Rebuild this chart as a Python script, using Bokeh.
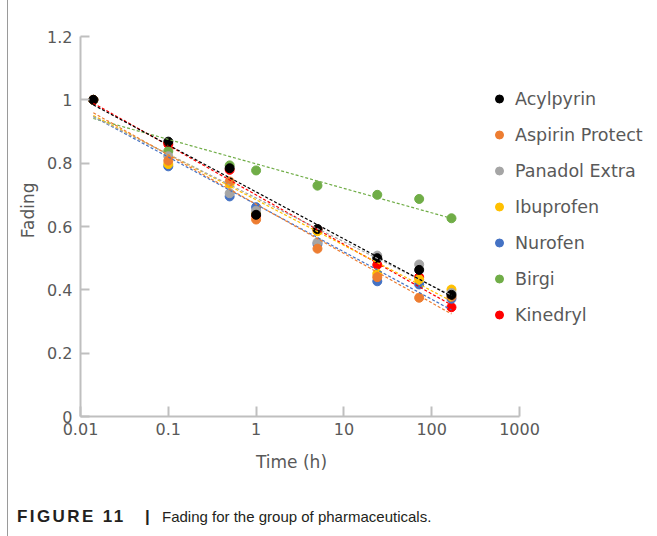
import numpy as np
from bokeh.plotting import figure
from bokeh.layouts import column
from bokeh.models import (Range1d, FixedTicker, CustomJSTickFormatter, Legend, LegendItem, Div)
from bokeh.embed import file_html
from bokeh.resources import INLINE

# ---- data ----
times = [0.014, 0.1, 0.5, 1, 5, 24, 72, 168]
series_names = ["Acylpyrin", "Aspirin Protect", "Panadol Extra", "Ibuprofen", "Nurofen", "Birgi", "Kinedryl"]
acylpyrin = [1.0, 0.868, 0.784, 0.637, 0.592, 0.500, 0.463, 0.384]
aspirin_protect = [1.0, 0.808, 0.742, 0.622, 0.530, 0.440, 0.375, 0.378]
panadol_extra = [1.0, 0.822, 0.705, 0.650, 0.550, 0.508, 0.480, 0.390]
ibuprofen = [1.0, 0.797, 0.735, 0.640, 0.585, 0.451, 0.433, 0.401]
nurofen = [1.0, 0.790, 0.695, 0.661, 0.545, 0.427, 0.417, 0.372]
birgi = [1.0, 0.838, 0.793, 0.777, 0.729, 0.700, 0.687, 0.626]
kinedryl = [1.0, 0.860, 0.779, 0.635, 0.590, 0.479, 0.440, 0.345]
series_values = [acylpyrin, aspirin_protect, panadol_extra, ibuprofen, nurofen, birgi, kinedryl]
colors = ["#000000", "#ED7D31", "#A5A5A5", "#FFC000", "#4472C4", "#70AD47", "#FF0000"]
x_ticks = [0.01, 0.1, 1, 10, 100, 1000]
y_ticks = [0, 0.2, 0.4, 0.6, 0.8, 1.0, 1.2]
x_title = "Time (h)"
y_title = "Fading"
caption_bold = "FIGURE 11"
caption_sep = "|"
caption_text = "Fading for the group of pharmaceuticals."

# ---- layout (pixels) ----
W = 649            # canvas width (page has a 8px left offset with border)
H_MAIN = 450
H_CAP = 86
FRAME_L, FRAME_T, FRAME_B = 72, 36, 34
AXIS_W = 439       # pixel width of 0.01..1000
extra_decades = (W - FRAME_L - AXIS_W) / (AXIS_W / 5.0)

p = figure(width=W, height=H_MAIN, x_axis_type="log", output_backend="svg", toolbar_location=None,
           x_range=Range1d(0.01, 10 ** (3 + extra_decades)), y_range=Range1d(0, 1.2),
           min_border_left=FRAME_L, min_border_right=0, min_border_top=FRAME_T,
           min_border_bottom=FRAME_B)
p.outline_line_color = None
p.xgrid.visible = False
p.ygrid.visible = False
p.background_fill_color = "white"
p.border_fill_color = "white"

fmt = CustomJSTickFormatter(code="return String(parseFloat(tick.toPrecision(6)));")
for ax, ticks in ((p.xaxis[0], x_ticks), (p.yaxis[0], y_ticks)):
    ax.ticker = FixedTicker(ticks=ticks)
    ax.formatter = fmt
    ax.axis_line_color = "#BFBFBF"
    ax.axis_line_width = 2
    ax.major_tick_line_color = "#BFBFBF"
    ax.major_tick_line_width = 2
    ax.major_tick_out = 0
    ax.minor_tick_line_color = None
    ax.major_label_text_font = "DejaVu Sans"
    ax.major_label_text_font_size = "16px"
    ax.major_label_text_color = "#595959"
    ax.major_label_text_font_style = "normal"
p.xaxis[0].bounds = (x_ticks[0], x_ticks[-1])
p.xaxis[0].major_tick_in = 10
p.yaxis[0].major_tick_in = 9
p.xaxis[0].major_label_standoff = 6
p.yaxis[0].major_label_standoff = 8
p.yaxis[0].axis_label = "\u00a0" * 6 + y_title
p.yaxis[0].axis_label_text_font = "DejaVu Sans"
p.yaxis[0].axis_label_text_font_size = "17px"
p.yaxis[0].axis_label_text_font_style = "normal"
p.yaxis[0].axis_label_text_color = "#595959"
p.yaxis[0].axis_label_standoff = 6

# scatter renderers (Acylpyrin on top -> draw last)
renderers = {}
for name, vals, c in reversed(list(zip(series_names, series_values, colors))):
    renderers[name] = p.scatter(times, vals, size=9, color=c, line_color=c)

# logarithmic trendlines (least squares on ln t)
tarr = np.array(times, dtype=float)
for name, vals, c in reversed(list(zip(series_names, series_values, colors))):
    a, b = np.polyfit(np.log(tarr), np.array(vals), 1)
    xs = [tarr[0], tarr[-1]]
    ys = [a * np.log(x) + b for x in xs]
    p.line(xs, ys, line_color=c, line_width=1.2, line_dash="3 2")

legend = Legend(items=[LegendItem(label=n, renderers=[renderers[n]]) for n in series_names],
                location=(409, 91), orientation="vertical",
                border_line_color=None, background_fill_alpha=0,
                padding=0, margin=0, spacing=15, label_height=21, glyph_height=21, glyph_width=20,
                label_standoff=6, label_text_font="DejaVu Sans", label_text_font_size="17.5px",
                label_text_color="#595959")
p.add_layout(legend, "center")

# ---- caption strip (HTML text) ----
span = "position:absolute;top:{top}px;left:{left}px;transform:translate({tx},-50%);white-space:nowrap;"
html = (
    f'<div style="position:relative;width:{W}px;height:{H_CAP}px;">'
    f'<span style="{span.format(top=12, left=283.5, tx="-50%")}font-family:\'DejaVu Sans\';'
    f'font-size:17px;color:#595959;">{x_title}</span>'
    f'<span style="{span.format(top=67, left=9, tx="0")}font-family:\'Liberation Sans\';'
    f'font-size:17px;font-weight:bold;letter-spacing:2.4px;color:#231F20;">{caption_bold}</span>'
    f'<span style="{span.format(top=67, left=137, tx="0")}font-family:\'Liberation Sans\';'
    f'font-size:17px;font-weight:bold;color:#231F20;">{caption_sep}</span>'
    f'<span style="{span.format(top=67, left=154, tx="0")}font-family:\'Liberation Sans\';'
    f'font-size:15px;color:#231F20;">{caption_text}</span>'
    f'</div>'
)
cap = Div(text=html, width=W, height=H_CAP, margin=0)

layout = column(p, cap, spacing=0)
layout.styles = {"margin-left": "7px", "border-left": "1px solid #9a9a9a"}

open("out.html", "w").write(file_html(layout, INLINE))
